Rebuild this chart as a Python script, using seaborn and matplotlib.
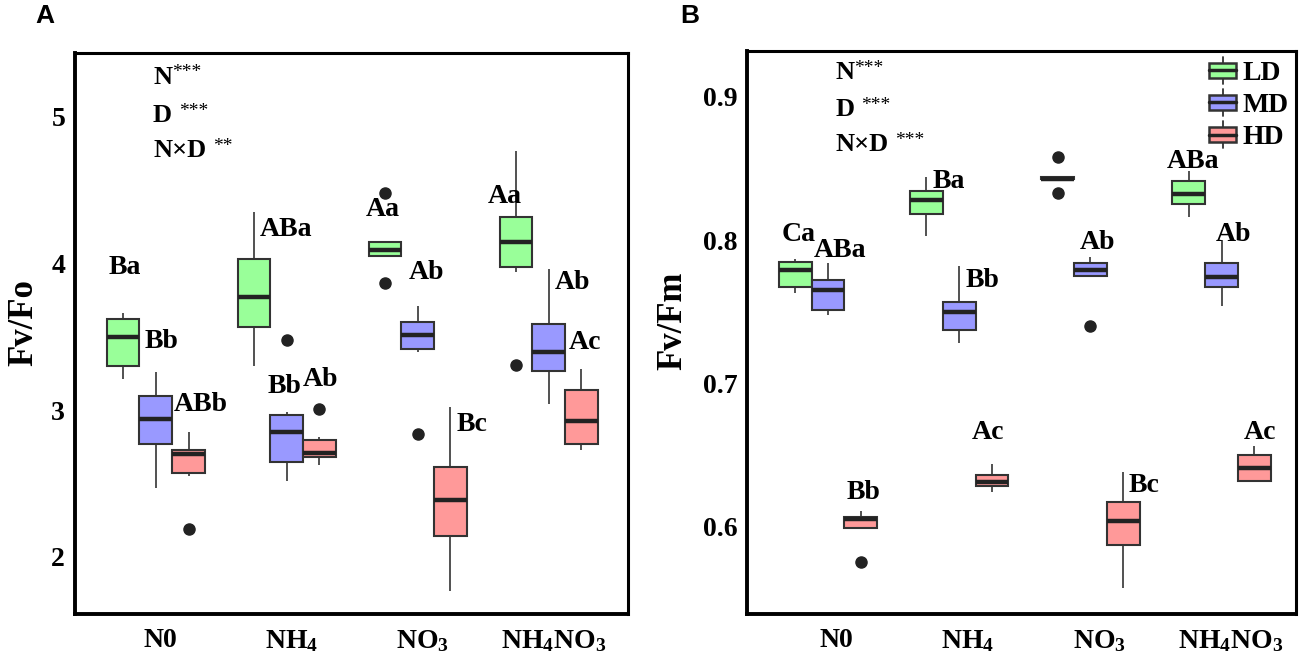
import numpy as np
import pandas as pd
import seaborn as sns
import matplotlib
matplotlib.use('Agg')
import matplotlib.pyplot as plt
from matplotlib.legend_handler import HandlerBase
from matplotlib.patches import Patch, Rectangle
from matplotlib.lines import Line2D

# treatments and densities
groups = ['N0', 'NH4', 'NO3', 'NH4NO3']
group_labels = ['N0', r'NH$_\mathbf{4}$', r'NO$_\mathbf{3}$', r'NH$_\mathbf{4}$NO$_\mathbf{3}$']
densities = ['LD', 'MD', 'HD']
colors = ['#99FF99', '#9999FF', '#FF9999']

# Fv/Fo samples (one list per treatment)
fvfo_LD = [
    [3.21, 3.30, 3.50, 3.62, 3.66],
    [3.30, 3.57, 3.77, 4.03, 4.35],
    [3.87, 4.05, 4.05, 4.07, 4.09, 4.10, 4.15, 4.15, 4.48],
    [3.31, 3.94, 3.98, 4.08, 4.15, 4.22, 4.32, 4.50, 4.77],
]
fvfo_MD = [
    [2.47, 2.77, 2.94, 3.10, 3.26],
    [2.52, 2.60, 2.65, 2.75, 2.85, 2.92, 2.97, 2.99, 3.48],
    [2.84, 3.40, 3.42, 3.47, 3.51, 3.55, 3.60, 3.65, 3.71],
    [3.04, 3.27, 3.40, 3.59, 3.96],
]
fvfo_HD = [
    [2.19, 2.55, 2.57, 2.64, 2.70, 2.71, 2.73, 2.80, 2.85],
    [2.63, 2.66, 2.68, 2.70, 2.71, 2.75, 2.80, 2.82, 3.01],
    [1.77, 2.14, 2.39, 2.61, 3.02],
    [2.73, 2.77, 2.93, 3.14, 3.28],
]

# Fv/Fm samples
fvfm_LD = [
    [0.763, 0.767, 0.779, 0.785, 0.787],
    [0.803, 0.818, 0.828, 0.834, 0.844],
    [0.833, 0.843, 0.843, 0.843, 0.843, 0.843, 0.844, 0.844, 0.858],
    [0.816, 0.825, 0.832, 0.841, 0.848],
]
fvfm_MD = [
    [0.748, 0.751, 0.765, 0.772, 0.784],
    [0.728, 0.737, 0.750, 0.757, 0.782],
    [0.740, 0.775, 0.775, 0.777, 0.779, 0.781, 0.784, 0.786, 0.788],
    [0.754, 0.767, 0.774, 0.784, 0.800],
]
fvfm_HD = [
    [0.575, 0.598, 0.599, 0.602, 0.605, 0.606, 0.6065, 0.609, 0.611],
    [0.624, 0.628, 0.631, 0.636, 0.644],
    [0.557, 0.587, 0.604, 0.617, 0.638],
    [0.631, 0.632, 0.641, 0.650, 0.656],
]

# significance letters (text, x, y)
letters_A = [
    ('Ba', -0.24, 3.97), ('Bb', 0.045, 3.47), ('ABb', 0.34, 3.04),
    ('ABa', 0.995, 4.23), ('Bb', 0.985, 3.16), ('Ab', 1.255, 3.21),
    ('Aa', 1.735, 4.37), ('Ab', 2.065, 3.94), ('Bc', 2.415, 2.90),
    ('Aa', 2.665, 4.46), ('Ab', 3.185, 3.87), ('Ac', 3.275, 3.46),
]
letters_B = [
    ('Ca', -0.221, 0.804), ('ABa', 0.089, 0.793), ('Bb', 0.268, 0.624),
    ('Ba', 0.917, 0.841), ('Bb', 1.176, 0.772), ('Ac', 1.218, 0.6656),
    ('Ab', 2.054, 0.798), ('Bc', 2.409, 0.6286),
    ('ABa', 2.78, 0.855), ('Ab', 3.09, 0.804), ('Ac', 3.292, 0.666),
]
stat_terms = ['N', 'D', 'N×D']
stat_gaps = [0, 5, 5]
stars_A = ['***', '***', '**']
stars_B = ['***', '***', '***']


def long_table(ld, md, hd):
    rows = []
    for d, series in zip(densities, [ld, md, hd]):
        for g, vals in zip(groups, series):
            for v in vals:
                rows.append({'N': g, 'D': d, 'value': v})
    return pd.DataFrame(rows)


class MiniBox(HandlerBase):
    def create_artists(self, legend, orig_handle, xdescent, ydescent,
                       width, height, fontsize, trans):
        x0, y0 = -xdescent, -ydescent
        bh = height * 0.6
        by = y0 + (height - bh) / 2
        cx = x0 + width / 2
        lo = Line2D([cx, cx], [y0 - 0.05 * height, by], color='#333333', lw=1.3, transform=trans)
        hi = Line2D([cx, cx], [by + bh, y0 + 1.05 * height], color='#333333', lw=1.3, transform=trans)
        rect = Rectangle((x0, by), width, bh, facecolor=orig_handle.get_facecolor(),
                         edgecolor='#333333', lw=1.8, transform=trans)
        med = Line2D([x0, x0 + width], [y0 + height / 2] * 2, color='#222222', lw=2.5, transform=trans)
        return [lo, hi, rect, med]


sns.set_style('white')
plt.rcParams['font.family'] = ['Liberation Serif', 'DejaVu Serif']
plt.rcParams['font.weight'] = 'bold'
plt.rcParams['mathtext.fontset'] = 'custom'
plt.rcParams['mathtext.rm'] = 'Liberation Serif'
plt.rcParams['mathtext.it'] = 'Liberation Serif:italic'
plt.rcParams['mathtext.bf'] = 'Liberation Serif:bold'
plt.rcParams['text.color'] = 'black'
plt.rcParams['axes.labelcolor'] = 'black'
plt.rcParams['xtick.labelcolor'] = 'black'
plt.rcParams['ytick.labelcolor'] = 'black'

fig = plt.figure(figsize=(12.99, 6.59), dpi=100)
axA = fig.add_axes([0.0577, 0.0683, 0.4257, 0.8513])
axB = fig.add_axes([0.5750, 0.0683, 0.4227, 0.8543])

panels = [
    (axA, long_table(fvfo_LD, fvfo_MD, fvfo_HD), 'Fv/Fo', (1.611, 5.436), [2, 3, 4, 5],
     (-0.617, 3.605), 0.035, letters_A, stars_A, (-0.021, [5.27, 5.01, 4.77]), -0.063),
    (axB, long_table(fvfm_LD, fvfm_MD, fvfm_HD), 'Fv/Fm', (0.539, 0.932), [0.6, 0.7, 0.8, 0.9],
     (-0.618, 3.567), 0.067, letters_B, stars_B, (0.054, [0.917, 0.891, 0.8666]), -0.104),
]

for ax, df, ylab, ylim, yticks, xlim, tick_off, letters, stars, stat_pos, labx in panels:
    sns.boxplot(data=df, x='N', y='value', hue='D', order=groups, hue_order=densities,
                palette=colors, saturation=1, width=0.75, gap=0, linewidth=1.5,
                linecolor='#333333', showcaps=False, legend=False, ax=ax,
                medianprops={'color': '#222222', 'linewidth': 3.2},
                whiskerprops={'linewidth': 1.2},
                flierprops={'marker': 'o', 'markerfacecolor': '#222222',
                            'markeredgecolor': '#222222', 'markersize': 8})
    ax.set_xlim(*xlim)
    ax.set_ylim(*ylim)
    ax.set_xticks(np.arange(len(groups)) + tick_off)
    ax.set_xticklabels(group_labels)
    ax.set_yticks(yticks)
    ax.set_yticklabels([f'{t:g}' for t in yticks])
    ax.set_xlabel('')
    ax.set_ylabel(ylab, fontsize=25, fontweight='bold', color='black')
    ax.yaxis.set_label_coords(labx, 0.52)
    ax.tick_params(axis='both', labelsize=20, color='#333333', labelcolor='black',
                   width=2.5, length=4)
    ax.tick_params(axis='x', pad=6)
    ax.tick_params(axis='y', pad=3)
    for lab in ax.get_xticklabels() + ax.get_yticklabels():
        lab.set_fontweight('bold')
    for side in ['left', 'bottom']:
        ax.spines[side].set_linewidth(2.8)
        ax.spines[side].set_color('black')
    for side in ['top', 'right']:
        ax.spines[side].set_linewidth(2.2)
        ax.spines[side].set_color('black')
    for s, x, y in letters:
        ax.text(x, y, s, ha='center', va='center', fontsize=20, fontweight='bold', color='black')
    sx, sys_ = stat_pos
    for term, st, gap, y in zip(stat_terms, stars, stat_gaps, sys_):
        t = ax.text(sx, y, term, ha='left', va='center', fontsize=19, fontweight='bold',
                    color='black')
        ax.annotate(st, xy=(1, 1), xycoords=t, xytext=(gap, 1), textcoords='offset points',
                    ha='left', va='top', fontsize=14, fontweight='normal', color='black')

handles = [Patch(facecolor=c, label=d) for c, d in zip(colors, densities)]
axB.legend(handles=handles, handler_map={Patch: MiniBox()}, loc='upper right',
           frameon=False, prop={'family': 'Liberation Serif', 'weight': 'bold', 'size': 20},
           handlelength=0.97, handleheight=1.0, handletextpad=0.25, labelspacing=0.15,
           borderpad=0.15, borderaxespad=0.1, labelcolor='black')

fig.text(0.027, 0.994, 'A', ha='left', va='top', fontsize=19, fontweight='bold',
         color='black', family=['Liberation Sans', 'DejaVu Sans'])
fig.text(0.524, 0.994, 'B', ha='left', va='top', fontsize=19, fontweight='bold',
         color='black', family=['Liberation Sans', 'DejaVu Sans'])

fig.savefig('out.png', dpi=100)
